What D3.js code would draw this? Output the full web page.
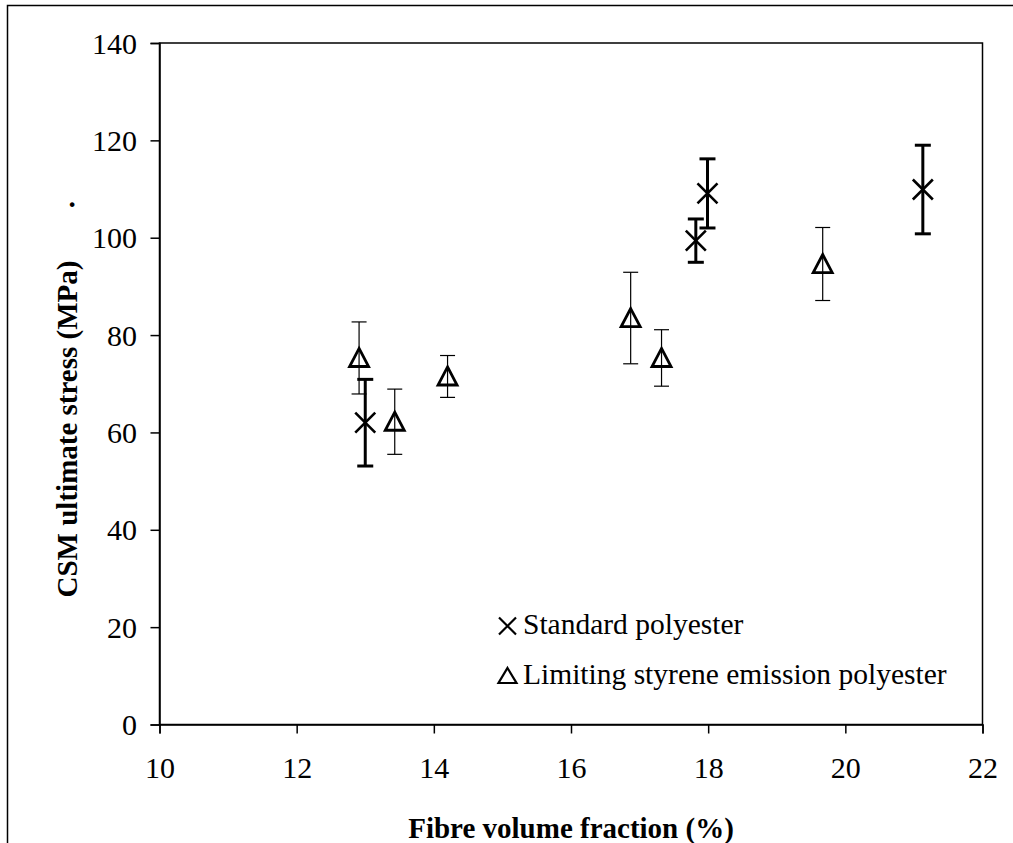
<!DOCTYPE html>
<html>
<head>
<meta charset="utf-8">
<title>CSM ultimate stress</title>
<style>
  body { margin: 0; background: #fff; }
  svg text { font-family: "Liberation Serif", "Times New Roman", Times, serif !important; fill: #000; }
</style>
</head>
<body>
<script src="https://cdn.jsdelivr.net/npm/d3@7"></script>
<script>
	// standard polyester (x markers)
	var stdX   = [13.0, 17.82, 17.99, 21.13],
		stdY   = [62.0, 99.4, 109.1, 109.9],
		stdErr = [8.9, 4.45, 7.1, 9.1];

	// limiting styrene emission polyester (triangles)
	var lseX   = [12.91, 13.43, 14.20, 16.87, 17.32, 19.67],
		lseY   = [75.3, 62.2, 71.5, 83.5, 75.3, 94.6],
		lseErr = [7.4, 6.7, 4.3, 9.4, 5.8, 7.5];

	var xTicks = [10, 12, 14, 16, 18, 20, 22],
		yTicks = [0, 20, 40, 60, 80, 100, 120, 140];

	var legendLabels = ["Standard polyester", "Limiting styrene emission polyester"];

	var w = 1013,
		h = 843;

	var svg = d3.select("body").append("svg")
			.attr("width", w)
			.attr("height", h);

	// outer frame (only left and top edges are visible in the window)
	svg.append("rect")
		.attr("x", 7.5).attr("y", 5.5)
		.attr("width", 1100).attr("height", 1000)
		.attr("fill", "none").attr("stroke", "#000").attr("stroke-width", 1.5);

	var x = d3.scaleLinear().domain([10, 22]).range([159.5, 982.5]),
		y = d3.scaleLinear().domain([0, 140]).range([724.5, 43]);

	// plot box
	svg.append("rect")
		.attr("x", x(10)).attr("y", y(140))
		.attr("width", x(22) - x(10)).attr("height", y(0) - y(140))
		.attr("fill", "none").attr("stroke", "#000").attr("stroke-width", 1.5);

	var xAxis = svg.append("g")
		.attr("transform", "translate(0," + y(0) + ")")
		.call(d3.axisBottom(x).tickValues(xTicks).tickSize(9).tickFormat(d3.format("d")));
	var yAxis = svg.append("g")
		.attr("transform", "translate(" + x(10) + ",0)")
		.call(d3.axisLeft(y).tickValues(yTicks).tickSize(9).tickPadding(13.5).tickFormat(d3.format("d")));

	[xAxis, yAxis].forEach(function(a) {
		a.attr("font-family", null);
		a.select(".domain").attr("stroke-width", 1.5);
		a.selectAll(".tick line").attr("stroke-width", 1.5);
		a.selectAll("text").attr("font-size", "30px");
	});
	xAxis.selectAll("text").attr("y", 53.5).attr("dy", 0);
	yAxis.selectAll("text").attr("dy", "0.34em");

	// axis titles
	svg.append("text")
		.attr("x", (x(10) + x(22)) / 2).attr("y", 838)
		.attr("text-anchor", "middle")
		.attr("font-size", "29px").attr("font-weight", "bold")
		.text("Fibre volume fraction (%)");

	svg.append("text")
		.attr("transform", "translate(77,429) rotate(-90)")
		.attr("text-anchor", "middle")
		.attr("font-size", "29px").attr("font-weight", "bold")
		.text("CSM ultimate stress (MPa)");

	svg.append("text")
		.attr("x", 72).attr("y", 207)
		.attr("text-anchor", "middle")
		.attr("font-size", "29px").attr("font-weight", "bold")
		.text(".");

	function errorBars(xs, ys, es, width, cap) {
		var g = svg.append("g").attr("stroke", "#000").attr("stroke-width", width);
		xs.forEach(function(d, i) {
			var cx = x(d), top = y(ys[i] + es[i]), bot = y(ys[i] - es[i]);
			g.append("line").attr("x1", cx).attr("x2", cx).attr("y1", top).attr("y2", bot);
			g.append("line").attr("x1", cx - cap).attr("x2", cx + cap).attr("y1", top).attr("y2", top);
			g.append("line").attr("x1", cx - cap).attr("x2", cx + cap).attr("y1", bot).attr("y2", bot);
		});
	}

	function crossPath(cx, cy, s) {
		return "M" + (cx - s) + "," + (cy - s) + "L" + (cx + s) + "," + (cy + s) +
			"M" + (cx - s) + "," + (cy + s) + "L" + (cx + s) + "," + (cy - s);
	}
	function triPath(cx, cy, s) {
		return "M" + cx + "," + (cy - s) + "L" + (cx + s) + "," + (cy + s * 0.9) +
			"L" + (cx - s) + "," + (cy + s * 0.9) + "Z";
	}

	errorBars(lseX, lseY, lseErr, 1.2, 7.5);
	errorBars(stdX, stdY, stdErr, 3, 8);

	svg.append("g").selectAll("path")
		.data(lseX)
		.enter()
		.append("path")
			.attr("d", function(d, i) { return triPath(x(d), y(lseY[i]), 9.5); })
			.attr("fill", "none").attr("stroke", "#000")
			.attr("stroke-width", 2.8).attr("stroke-linejoin", "miter");

	svg.append("g").selectAll("path")
		.data(stdX)
		.enter()
		.append("path")
			.attr("d", function(d, i) { return crossPath(x(d), y(stdY[i]), 10); })
			.attr("fill", "none").attr("stroke", "#000").attr("stroke-width", 2.6);

	// legend
	var legend = svg.append("g");
	legend.append("path")
		.attr("d", crossPath(507.5, 626, 8.5))
		.attr("fill", "none").attr("stroke", "#000").attr("stroke-width", 2.2);
	legend.append("path")
		.attr("d", "M507.5,668L516.5,683L498.5,683Z")
		.attr("fill", "none").attr("stroke", "#000").attr("stroke-width", 2.2);
	legend.selectAll("text")
		.data(legendLabels)
		.enter()
		.append("text")
			.attr("x", 523)
			.attr("y", function(d, i) { return 634 + i * 50; })
			.attr("font-size", "29.5px")
			.text(function(d) { return d; });
</script>
</body>
</html>
